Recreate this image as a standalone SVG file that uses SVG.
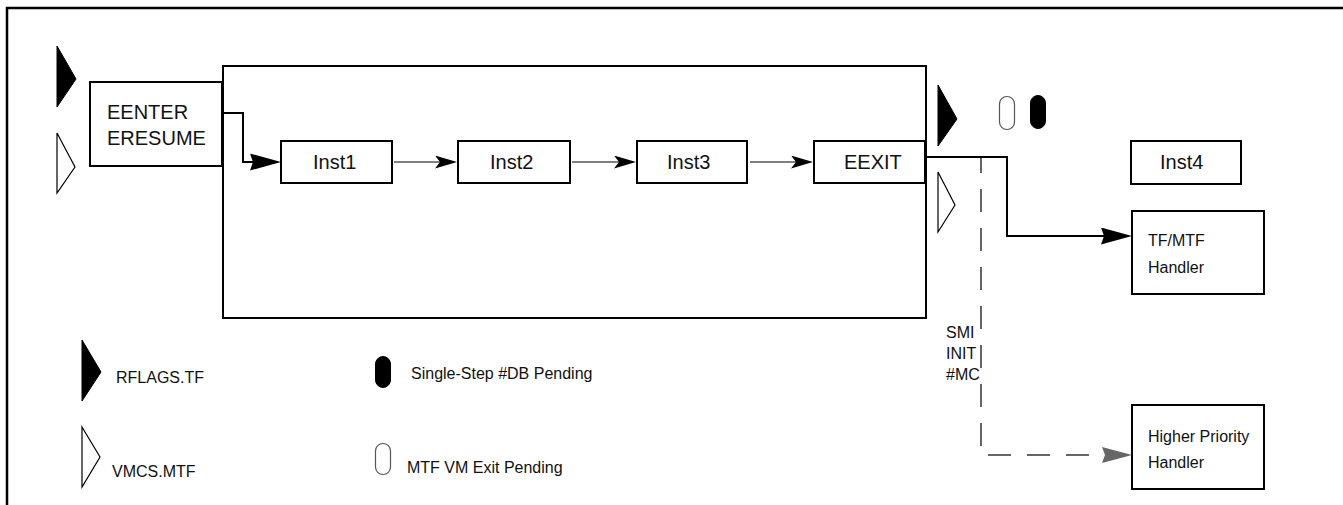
<svg xmlns="http://www.w3.org/2000/svg" width="1343" height="505" viewBox="0 0 1343 505">
<defs>
<style>
.box{fill:#fff;stroke:#000;stroke-width:2}
.t20{font-family:"Liberation Sans",Arial,sans-serif;font-size:20px;fill:#111}
.t16{font-family:"Liberation Sans",Arial,sans-serif;font-size:16px;fill:#111}
.conn{fill:none;stroke:#000;stroke-width:2}
.thin{fill:none;stroke:#000;stroke-width:1.2}
.dash{fill:none;stroke:#666;stroke-width:2;stroke-dasharray:23 16;stroke-dashoffset:8}
.tfon{fill:#000;stroke:#000;stroke-width:1}
.tfoff{fill:#fff;stroke:#000;stroke-width:1.2}
.pon{fill:#000;stroke:#000;stroke-width:1}
.poff{fill:#fff;stroke:#555;stroke-width:1.2}
</style>
<marker id="aBig" markerUnits="userSpaceOnUse" markerWidth="32" markerHeight="18" refX="3" refY="8.5" orient="auto" viewBox="0 0 32 18">
<path d="M0,0 L31,8.5 L0,17 L3,8.5 z" fill="#000"/>
</marker>
<marker id="aGray" markerUnits="userSpaceOnUse" markerWidth="32" markerHeight="18" refX="3" refY="8" orient="auto" viewBox="0 0 32 18">
<path d="M0,0 L30,8 L0,16 L3,8 z" fill="#666"/>
</marker>
<marker id="aSmall" markerUnits="userSpaceOnUse" markerWidth="24" markerHeight="14" refX="5" refY="6.5" orient="auto" viewBox="0 0 24 14">
<path d="M0,0 L22,6.5 L0,13 L5,6.5 z" fill="#000"/>
</marker>
</defs>
<rect x="0" y="0" width="1343" height="505" fill="#fff"/>
<path d="M7,505 L7,8 L1343,8" fill="none" stroke="#000" stroke-width="2.5"/>

<g id="enclave">
<rect class="box" x="223" y="66" width="703" height="252"/>
</g>

<g id="eenter">
<rect class="box" x="90" y="82" width="132" height="84"/>
<text class="t20" x="107" y="119">EENTER</text>
<text class="t20" x="107" y="145">ERESUME</text>
</g>

<g id="inst1">
<rect class="box" x="281" y="141" width="111" height="42"/>
<text class="t20" x="313" y="169">Inst1</text>
</g>
<g id="inst2">
<rect class="box" x="458" y="141" width="112" height="42"/>
<text class="t20" x="490" y="169">Inst2</text>
</g>
<g id="inst3">
<rect class="box" x="637" y="141" width="110" height="42"/>
<text class="t20" x="667" y="169">Inst3</text>
</g>
<g id="eexit">
<rect class="box" x="814" y="141" width="111" height="42"/>
<text class="t20" x="844" y="169">EEXIT</text>
</g>
<g id="inst4">
<rect class="box" x="1131" y="141" width="110" height="43"/>
<text class="t20" x="1160" y="169">Inst4</text>
</g>
<g id="tfmtf-handler">
<rect class="box" x="1132" y="211" width="132" height="83"/>
<text class="t16" x="1148" y="246">TF/MTF</text>
<text class="t16" x="1148" y="273">Handler</text>
</g>
<g id="higher-priority-handler">
<rect class="box" x="1132" y="405" width="132" height="84"/>
<text class="t16" x="1148" y="442">Higher Priority</text>
<text class="t16" x="1148" y="468">Handler</text>
</g>

<g id="connectors">
<path class="conn" d="M222,113 L243,113 L243,162 L253,162" marker-end="url(#aBig)"/>
<path class="thin" d="M394,162 L440,162" marker-end="url(#aSmall)"/>
<path class="thin" d="M572,162 L619,162" marker-end="url(#aSmall)"/>
<path class="thin" d="M750,162 L796,162" marker-end="url(#aSmall)"/>
<path class="conn" d="M925,157 L1007,157 L1007,236 L1104,236" marker-end="url(#aBig)"/>
<path class="dash" d="M981,158 L981,455 L1102,455"/>
<path d="M1102,447 L1132,455 L1102,463 L1105,455 z" fill="#666"/>
</g>

<g id="state-markers">
<polygon class="tfon" points="57,46 76,79 57,107"/>
<polygon class="tfoff" points="57,133 75,167 57,193"/>
<polygon class="tfon" points="938,85 957,119 938,146"/>
<polygon class="tfoff" points="938,172 955,205 938,232"/>
<rect class="poff" x="999.5" y="96.5" width="15" height="33" rx="7.5" ry="7.5"/>
<rect class="pon" x="1030.5" y="95.5" width="15" height="33" rx="7.5" ry="7.5"/>
</g>

<g id="event-label">
<text class="t16" x="946" y="338">SMI</text>
<text class="t16" x="946" y="359">INIT</text>
<text class="t16" x="946" y="380">#MC</text>
</g>

<g id="legend">
<polygon class="tfon" points="82,340 101,372 82,401"/>
<text class="t16" x="116" y="383">RFLAGS.TF</text>
<polygon class="tfoff" points="82,427 100,457 82,487"/>
<text class="t16" x="112" y="477">VMCS.MTF</text>
<rect class="pon" x="375.5" y="356.5" width="15" height="31" rx="7.5" ry="7.5"/>
<text class="t16" x="411" y="379">Single-Step #DB Pending</text>
<rect class="poff" x="375.5" y="443.5" width="15" height="31" rx="7.5" ry="7.5"/>
<text class="t16" x="407" y="473">MTF VM Exit Pending</text>
</g>
</svg>
